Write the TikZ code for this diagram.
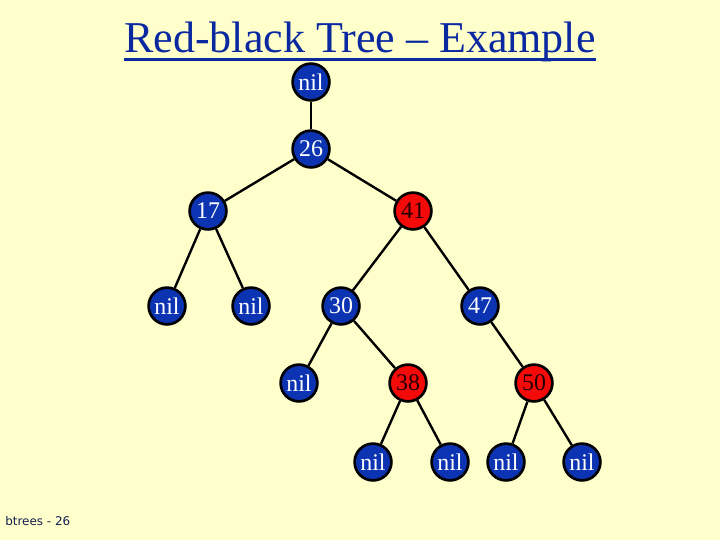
\documentclass[tikz,border=0pt]{standalone}
\usepackage{tikz}
\usepackage{xcolor}
\usepackage{fontspec}
\setmainfont{Liberation Serif}
\newfontfamily\footfont{DejaVu Sans}
\usetikzlibrary{positioning}

\definecolor{slidebg}{RGB}{255,255,204}
\definecolor{nodeblue}{RGB}{12,52,178}
\definecolor{nodered}{RGB}{245,10,10}
\definecolor{titleblue}{RGB}{10,40,160}
\definecolor{footnavy}{RGB}{20,30,80}

\tikzset{
  rbnode/.style={circle,draw=black,line width=1.9pt,minimum size=0.92cm,inner sep=0pt,
    font=\fontsize{17}{17}\selectfont},
  blk/.style={rbnode,fill=nodeblue,text=white},
  rd/.style={rbnode,fill=nodered,text=black!85!red},
  edge/.style={draw=black,line width=1.7pt}
}

\begin{document}
\begin{tikzpicture}[x=0.025cm,y=-0.025cm]
\fill[slidebg] (0,0) rectangle (720,540);
\useasboundingbox (0,0) rectangle (720,540);

% title
\node[anchor=base,text=titleblue,font=\fontsize{31.3}{31}\selectfont,inner sep=0pt] (title) at (360,52) {Red-black Tree -- Example};
\draw[titleblue,line width=2.4pt] ([yshift=-5.5pt]title.base west) -- ([yshift=-5.5pt]title.base east);

% nodes
\node[blk] (top) at (311,82) {nil};
\node[blk] (n26) at (311,149) {26};
\node[blk] (n17) at (208,211) {17};
\node[rd]  (n41) at (413,211) {41};
\node[blk] (nilA) at (167,306) {nil};
\node[blk] (nilB) at (251,306) {nil};
\node[blk] (n30) at (341,306) {30};
\node[blk] (n47) at (480,306) {47};
\node[blk] (nilC) at (299,383) {nil};
\node[rd]  (n38) at (408,383) {38};
\node[rd]  (n50) at (534,383) {50};
\node[blk] (nilD) at (373,462) {nil};
\node[blk] (nilE) at (450,462) {nil};
\node[blk] (nilF) at (506,462) {nil};
\node[blk] (nilG) at (582,462) {nil};

% edges
\draw[edge] (top) -- (n26);
\draw[edge] (n26) -- (n17);
\draw[edge] (n26) -- (n41);
\draw[edge] (n17) -- (nilA);
\draw[edge] (n17) -- (nilB);
\draw[edge] (n41) -- (n30);
\draw[edge] (n41) -- (n47);
\draw[edge] (n30) -- (nilC);
\draw[edge] (n30) -- (n38);
\draw[edge] (n47) -- (n50);
\draw[edge] (n38) -- (nilD);
\draw[edge] (n38) -- (nilE);
\draw[edge] (n50) -- (nilF);
\draw[edge] (n50) -- (nilG);

% footer
\node[anchor=base west,text=footnavy,font=\footfont\fontsize{8.5}{8.5}\selectfont,inner sep=0pt] (foot) at (5,525) {btrees - 26};
\end{tikzpicture}
\end{document}
